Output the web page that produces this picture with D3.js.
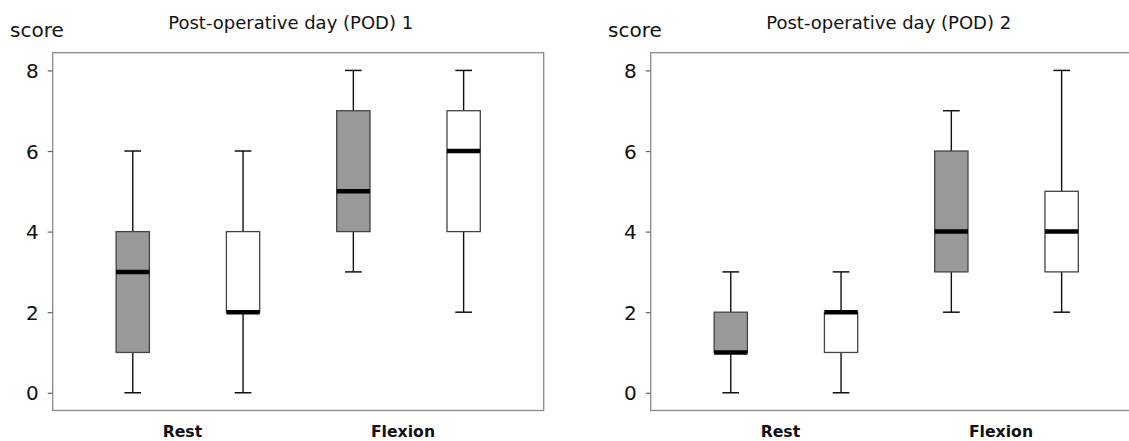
<!DOCTYPE html>
<html>
<head>
<meta charset="utf-8">
<script src="https://cdn.jsdelivr.net/npm/d3@7"></script>
<style>
html,body{margin:0;padding:0;background:#fff;}
svg{display:block;font-family:"DejaVu Sans",Verdana,sans-serif;}
</style>
</head>
<body>
<svg id="chart" width="1129" height="441"></svg>
<script>
// ---- data ----
const panelTitles = ["Post-operative day (POD) 1", "Post-operative day (POD) 2"];
const categories = ["Rest", "Flexion"];
const groups = ["A", "B"];          // gray, white
const yTicks = [0, 2, 4, 6, 8];
const yLabel = "score";
// each box: [min, q1, median, q3, max], order: Rest-A, Rest-B, Flexion-A, Flexion-B
const pod1Boxes = [
  [0, 1, 3, 4, 6],
  [0, 2, 2, 4, 6],
  [3, 4, 5, 7, 8],
  [2, 4, 6, 7, 8]
];
const pod2Boxes = [
  [0, 1, 1, 2, 3],
  [0, 1, 2, 2, 3],
  [2, 3, 4, 6, 7],
  [2, 3, 4, 5, 8]
];
const panelData = [pod1Boxes, pod2Boxes];
const groupFill = {A: "#999999", B: "#ffffff"};

// ---- layout ----
const svg = d3.select("#chart");
const panelOffset = 598;
const frame = {left: 52.7, right: 543.7, top: 52.7, bottom: 410.5};
const boxW = 33.3, capW = 16.7;

const slots = [];
categories.forEach(c => groups.forEach(g => slots.push(c + "|" + g)));

panelData.forEach((boxes, pi) => {
  const g = svg.append("g").attr("transform", `translate(${pi * panelOffset},0)`);

  const x = d3.scalePoint().domain(slots)
    .range([frame.left, frame.right]).padding(0.726);
  const y = d3.scaleLinear().domain([-0.44, 8.44])
    .range([frame.bottom, frame.top]);

  // frame
  g.append("rect")
    .attr("x", frame.left).attr("y", frame.top)
    .attr("width", frame.right - frame.left)
    .attr("height", frame.bottom - frame.top)
    .attr("fill", "none").attr("stroke", "#8a8a8a").attr("stroke-width", 1.3);

  // y axis
  const yAxis = d3.axisLeft(y).tickValues(yTicks).tickSize(5).tickPadding(9)
    .tickFormat(d3.format("d"));
  const ax = g.append("g").attr("transform", `translate(${frame.left},0)`).call(yAxis);
  ax.select(".domain").remove();
  ax.selectAll(".tick line").attr("stroke", "#666").attr("stroke-width", 1.2);
  ax.selectAll(".tick text")
    .attr("font-size", 20).attr("fill", "#111")
    .attr("font-family", "DejaVu Sans, Verdana, sans-serif")
    .attr("dy", "0.36em");

  // y label
  g.append("text").attr("x", 10).attr("y", 37)
    .attr("font-size", 20).attr("fill", "#111").text(yLabel);

  // title
  g.append("text")
    .attr("x", (frame.left + frame.right) / 2 - 7.5).attr("y", 28.7)
    .attr("text-anchor", "middle").attr("font-size", 18).attr("fill", "#111")
    .text(panelTitles[pi]);

  // category labels
  categories.forEach(c => {
    const cx = (x(c + "|A") + x(c + "|B")) / 2 - 5.5;
    g.append("text").attr("x", cx).attr("y", 436.7)
      .attr("text-anchor", "middle").attr("font-size", 15.7)
      .attr("font-weight", "bold").attr("fill", "#111").text(c);
  });

  // boxes
  const bg = g.selectAll("g.box").data(boxes).join("g").attr("class", "box");
  bg.each(function(d, i) {
    const s = d3.select(this);
    const cx = x(slots[i]);
    const grp = slots[i].split("|")[1];
    const [mn, q1, md, q3, mx] = d;
    // whiskers
    s.append("line").attr("x1", cx).attr("x2", cx).attr("y1", y(q3)).attr("y2", y(mx))
      .attr("stroke", "#111").attr("stroke-width", 1.4);
    s.append("line").attr("x1", cx).attr("x2", cx).attr("y1", y(q1)).attr("y2", y(mn))
      .attr("stroke", "#111").attr("stroke-width", 1.4);
    // caps
    [mn, mx].forEach(v => {
      s.append("line").attr("x1", cx - capW / 2).attr("x2", cx + capW / 2)
        .attr("y1", y(v)).attr("y2", y(v))
        .attr("stroke", "#111").attr("stroke-width", 1.5);
    });
    // box
    s.append("rect").attr("x", cx - boxW / 2).attr("y", y(q3))
      .attr("width", boxW).attr("height", y(q1) - y(q3))
      .attr("fill", groupFill[grp]).attr("stroke", "#444").attr("stroke-width", 1.3);
    // median
    s.append("line").attr("x1", cx - boxW / 2).attr("x2", cx + boxW / 2)
      .attr("y1", y(md)).attr("y2", y(md))
      .attr("stroke", "#000").attr("stroke-width", 4.5);
  });
});
</script>
</body>
</html>
